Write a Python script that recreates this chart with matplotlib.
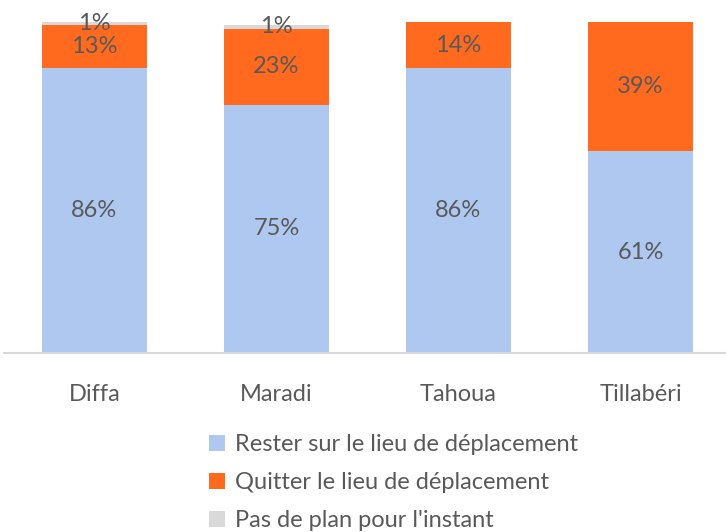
import matplotlib
matplotlib.use("Agg")
from matplotlib import pyplot as plt
import numpy as np

regions = ["Diffa", "Maradi", "Tahoua", "Tillabéri"]
rester = [86, 75, 86, 61]
quitter = [13, 23, 14, 39]
pas_de_plan = [1, 1, 0, 0]

series = [
    ("Rester sur le lieu de déplacement", rester, "#AEC8F0"),
    ("Quitter le lieu de déplacement", quitter, "#FF6A1F"),
    ("Pas de plan pour l'instant", pas_de_plan, "#D9D9D9"),
]

plt.rcParams["font.family"] = ["Lato", "DejaVu Sans"]
txt = "#595959"
fs = 17

fig = plt.figure(figsize=(7.26, 5.32), dpi=100)
ax = fig.add_axes([3.5 / 726, 179 / 532, 722.5 / 726, 331 / 532])

x = np.arange(len(regions))
bottom = np.zeros(len(regions))
for name, vals, col in series:
    vals = np.array(vals, dtype=float)
    bars = ax.bar(x, vals, 0.577, bottom=bottom, color=col, label=name)
    for b, v, y0 in zip(bars, vals, bottom):
        if v > 0:
            ax.text(b.get_x() + b.get_width() / 2, y0 + v / 2, f"{v:.0f}%",
                    ha="center", va="center", color=txt, fontsize=fs)
    bottom += vals

ax.set_xlim(-0.5, (726 - 94.5) / 182)
ax.set_ylim(0, 100)
ax.set_xticks(x)
ax.set_xticklabels(regions, fontsize=fs, color=txt)
ax.tick_params(axis="x", length=0, pad=22)
ax.set_yticks([])
for s in ["top", "left", "right"]:
    ax.spines[s].set_visible(False)
ax.spines["bottom"].set_color("#D9D9D9")
ax.spines["bottom"].set_linewidth(1.5)

leg = fig.legend(loc="upper left", bbox_to_anchor=(200 / 726, 1 - 425 / 532),
                 frameon=False, fontsize=fs, handlelength=0.65, handleheight=0.65,
                 handletextpad=0.45, labelspacing=0.72, borderaxespad=0)
for t in leg.get_texts():
    t.set_color(txt)

fig.savefig("out.png", dpi=100)
